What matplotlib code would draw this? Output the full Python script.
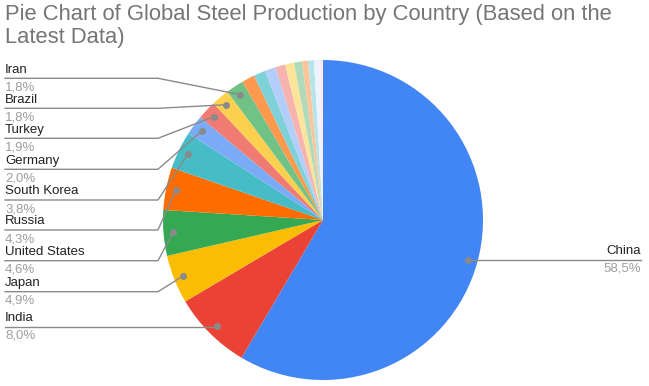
import math
import matplotlib.pyplot as plt

# DATOS
paises = ["China", "India", "Japan", "United States", "Russia", "South Korea",
          "Germany", "Turkey", "Brazil", "Iran"]
porcentajes = [58.5, 8.0, 4.9, 4.6, 4.3, 3.8, 2.0, 1.9, 1.8, 1.8]
etiquetas_pct = ["58,5%", "8,0%", "4,9%", "4,6%", "4,3%", "3,8%", "2,0%", "1,9%", "1,8%", "1,8%"]
# resto de paises sin etiqueta
otros = [1.3, 1.2, 1.1, 1.0, 0.9, 0.8, 0.6, 0.6, 0.5, 0.4]

colores = ["#4285F4", "#EA4335", "#FBBC04", "#34A853", "#FF6D01", "#46BDC6",
           "#7BAAF7", "#F07B72", "#FCD04F", "#71C287", "#FF994D", "#7ED1D7",
           "#B3CEFB", "#F7B4AE", "#FDE49B", "#AEDCBA", "#FFC599", "#B5E5E9",
           "#ECF3FE", "#FDECEB"]

titulo = "Pie Chart of Global Steel Production by Country (Based on the\nLatest Data)"

# Posicion (pixeles de imagen) de la linea de cada etiqueta de la izquierda
linea_y = {"India": 326.7, "Japan": 291.7, "United States": 260.7, "Russia": 230.0,
           "South Korea": 200.0, "Germany": 169.3, "Turkey": 138.3,
           "Brazil": 108.3, "Iran": 78.3}

W, H = 649, 386
fuente = "Liberation Sans"
gris_linea = "#8a8a8a"

fig = plt.figure(figsize=(W / 100, H / 100), dpi=100)
ax = fig.add_axes([0, 0, 1, 1])

cx, cy, r = 323, H - 220, 160
valores = porcentajes + otros
wedges, _ = ax.pie(valores, colors=colores[:len(valores)], startangle=90,
                   counterclock=False, center=(cx, cy), radius=r,
                   wedgeprops=dict(linewidth=0))

ax.set_xlim(0, W)
ax.set_ylim(0, H)
ax.set_aspect("equal")
ax.axis("off")


def punto(w):
    ang = math.radians((w.theta1 + w.theta2) / 2)
    return cx + 0.94 * r * math.cos(ang), cy + 0.94 * r * math.sin(ang)


for i, pais in enumerate(paises):
    px, py = punto(wedges[i])
    ax.plot([px], [py], "o", color=gris_linea, markersize=4, zorder=5)
    if pais == "China":
        ax.plot([px, 641], [py, py], color=gris_linea, lw=1)
        ax.text(641, py + 3, pais, ha="right", va="bottom", fontsize=9.5,
                family=fuente, color="#222222")
        ax.text(641, py - 3, etiquetas_pct[i], ha="right", va="top", fontsize=9.5,
                family=fuente, color="#9e9e9e")
        continue
    ly = H - linea_y[pais]
    if abs(ly - py) < 1:
        ax.plot([5, px], [ly, ly], color=gris_linea, lw=1)
    else:
        ax.plot([5, 158, px], [ly, ly, py], color=gris_linea, lw=1)
    ax.text(5, ly + 2.5, pais, ha="left", va="bottom", fontsize=9.5,
            family=fuente, color="#222222")
    ax.text(5, ly - 3, etiquetas_pct[i], ha="left", va="top", fontsize=9.5,
            family=fuente, color="#9e9e9e")

fig.text(5 / W, 1 - 4 / H, titulo, ha="left", va="top", fontsize=15.8,
         family=fuente, color="#757575", linespacing=1.1)

fig.savefig("out.png", dpi=100)
